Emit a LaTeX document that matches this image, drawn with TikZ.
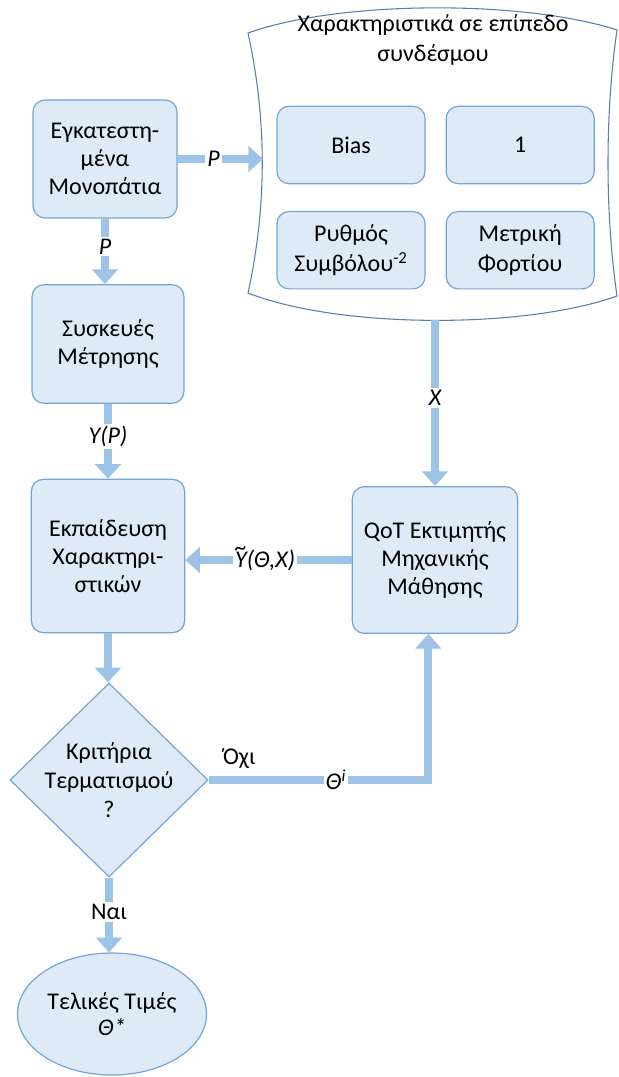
\documentclass[tikz,border=0pt]{standalone}
\usepackage{fontspec}
\setmainfont{Carlito}
\usepackage{tikz}
\usepackage{xcolor}
\usetikzlibrary{arrows.meta, positioning, shapes.geometric}
\definecolor{boxfill}{RGB}{222,235,247}
\definecolor{boxline}{RGB}{116,165,214}
\definecolor{arrowblue}{RGB}{157,195,230}
\definecolor{frameline}{RGB}{84,128,172}
\newcommand{\boxfont}{\fontsize{18}{21}\selectfont}
\newcommand{\widefont}{\fontsize{18}{22.5}\selectfont}
\newcommand{\tildeY}{\ooalign{Y\cr\hidewidth\raisebox{0.5em}{\textasciitilde}\hidewidth\cr}}

\begin{document}
\begin{tikzpicture}[x=0.75pt,y=-0.75pt,
  % riquadri arrotondati
  box/.style={draw=boxline,fill=boxfill,line width=0.9pt,rounded corners=9pt,
    align=center,inner sep=0pt,font=\boxfont},
  feat/.style={box,minimum width=111pt,minimum height=58pt,font=\widefont},
  decision/.style={diamond,draw=boxline,fill=boxfill,line width=0.9pt,
    minimum width=148.5pt,minimum height=145.5pt,inner sep=0pt},
  final/.style={ellipse,draw=boxline,fill=boxfill,line width=0.9pt,
    minimum width=141.75pt,minimum height=91.5pt,inner sep=0pt,align=center,
    font=\fontsize{18}{20}\selectfont},
  frame/.style={draw=frameline,line width=0.8pt},
  arr/.style={draw=arrowblue,line width=6pt,-{Triangle[width=19pt,length=11pt]}},
  lbl/.style={fill=white,inner sep=1.5pt,font=\boxfont\itshape}]

  \useasboundingbox (0,0) rectangle (618,1077);

  % contenitore delle caratteristiche
  \draw[frame] (248,33) .. controls (340,0) and (525,0) .. (617,30)
    .. controls (605,113) and (605,213) .. (617,296)
    .. controls (525,329) and (340,329) .. (248,293)
    .. controls (267,206) and (267,120) .. cycle;
  \node[align=center,font=\widefont](feattitle) at (433,40)
    {Χαρακτηριστικά σε επίπεδο\\συνδέσμου};
  \coordinate (featin) at (263,159);
  \coordinate (featout) at (435,320);

  \node[feat](bias) at (351,145){Bias};
  \node[feat,right=15pt of bias](one){1};
  \node[feat,below=20pt of bias](rate){Ρυθμός\\Συμβόλου\textsuperscript{-2}};
  \node[feat,below=20pt of one](load){Μετρική\\Φορτίου};

  \node[box,minimum width=108pt,minimum height=88.5pt](inst) at (105,159)
    {Εγκατεστη-\\μένα\\Μονοπάτια};
  \node[box,minimum width=114pt,minimum height=89pt](meas) at (108,344)
    {Συσκευές\\Μέτρησης};
  \node[box,minimum width=115pt,minimum height=115pt](train) at (108,556)
    {Εκπαίδευση\\Χαρακτηρι-\\στικών};
  \node[box,minimum width=124pt,minimum height=110pt](qot) at (435,560)
    {QoT Εκτιμητής\\Μηχανικής\\Μάθησης};
  \node[decision](crit) at (109,780){};
  \node[align=center,font=\fontsize{18}{22}\selectfont](crittxt) at (crit)
    {Κριτήρια\\Τερματισμού\\?};
  \node[final](fin) at (112,1014){Τελικές Τιμές\\\textit{Θ*}};

  \draw[arr](inst.east)--(featin) node[lbl,pos=0.42]{P};
  \draw[arr](inst.south)--(inst.south |- meas.north) node[lbl,pos=0.43]{P};
  \draw[arr](meas.south)--(meas.south |- train.north) node[lbl,pos=0.44]{Y(P)};
  \draw[arr](featout)--(qot.north) node[lbl,pos=0.47]{X};
  \draw[arr](qot.west)--(qot.west -| train.east) node[lbl,pos=0.52]{\tildeY(Θ,X)};
  \draw[arr](train.south)--(train.south |- crit.north);
  \draw[arr](crit.east) -| ([xshift=-5pt]qot.south)
    node[lbl,pos=0.29]{Θ\textsuperscript{i}}
    node[pos=0.07,above=2pt,font=\boxfont]{Όχι};
  \draw[arr](crit.south)--(crit.south |- fin.north) node[lbl,font=\boxfont,pos=0.46]{Ναι};

\end{tikzpicture}
\end{document}
